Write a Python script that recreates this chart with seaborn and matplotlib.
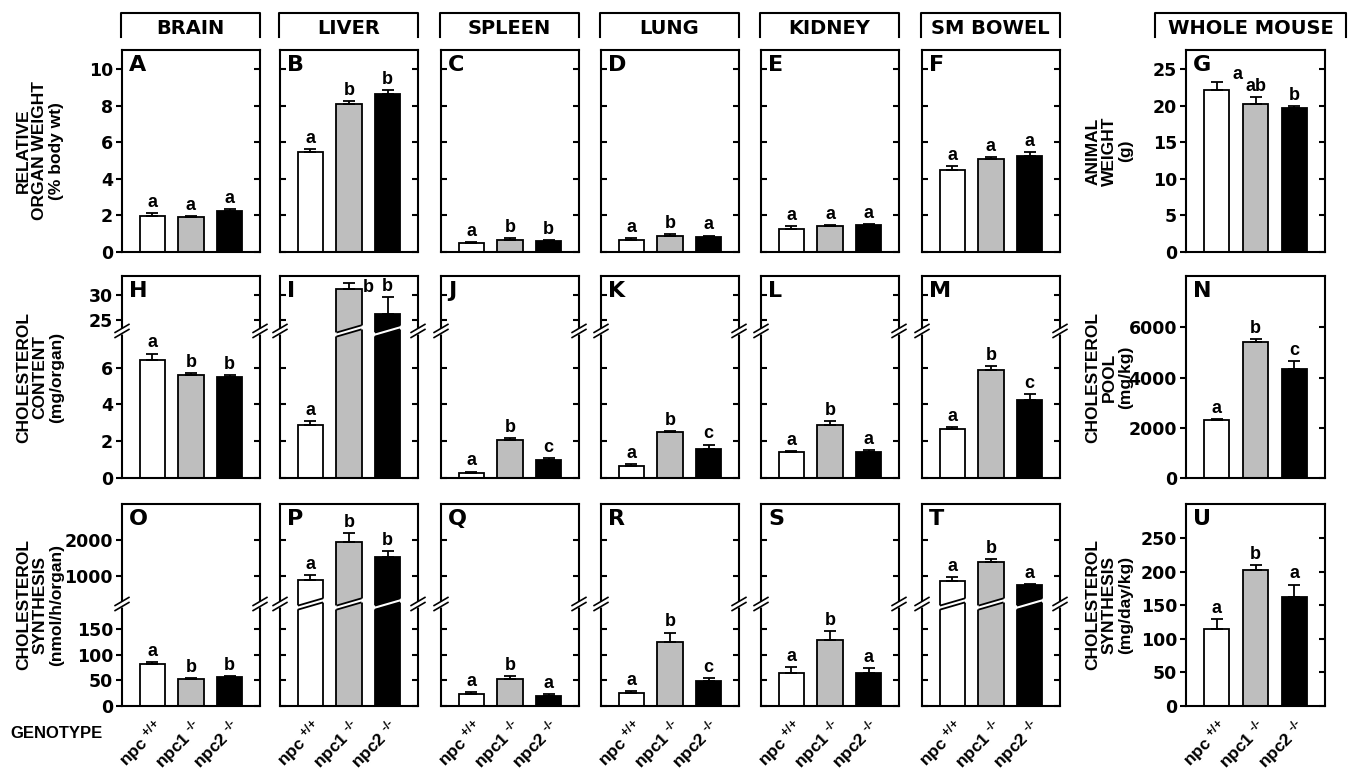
import numpy as np
import matplotlib
matplotlib.use("Agg")
import matplotlib.pyplot as plt
import matplotlib.lines as mlines
from matplotlib.patches import Polygon
from matplotlib.transforms import blended_transform_factory
import seaborn as sns

# ---- values ----
genotypes = ["npc +/+", "npc1 -/-", "npc2 -/-"]
genotype_ticks = [r"npc $^{\text{+/+}}$", r"npc1 $^{\text{-/-}}$", r"npc2 $^{\text{-/-}}$"]
organs = ["BRAIN", "LIVER", "SPLEEN", "LUNG", "KIDNEY", "SM BOWEL"]
bar_colors = ["#ffffff", "#bebebe", "#000000"]

# relative organ weight (% body wt), panels A-F
organ_weight = [[1.98, 1.91, 2.22], [5.44, 8.09, 8.63], [0.47, 0.68, 0.61],
                [0.68, 0.88, 0.83], [1.28, 1.42, 1.46], [4.50, 5.10, 5.25]]
organ_weight_sem = [[0.13, 0.07, 0.11], [0.20, 0.15, 0.20], [0.09, 0.10, 0.05],
                    [0.10, 0.10, 0.07], [0.12, 0.07, 0.07], [0.20, 0.10, 0.20]]
organ_weight_sig = [["a", "a", "a"], ["a", "b", "b"], ["a", "b", "b"],
                    ["a", "b", "a"], ["a", "a", "a"], ["a", "a", "a"]]

# cholesterol content (mg/organ), panels H-M
chol_content = [[6.44, 5.61, 5.48], [2.90, 31.1, 26.1], [0.29, 2.08, 0.98],
                [0.66, 2.50, 1.60], [1.40, 2.90, 1.40], [2.68, 5.88, 4.26]]
chol_content_sem = [[0.33, 0.11, 0.14], [0.18, 1.20, 3.50], [0.06, 0.07, 0.09],
                    [0.11, 0.07, 0.22], [0.08, 0.20, 0.11], [0.09, 0.20, 0.31]]
chol_content_sig = [["a", "b", "b"], ["a", "b", "b"], ["a", "b", "c"],
                    ["a", "b", "c"], ["a", "b", "a"], ["a", "b", "c"]]

# cholesterol synthesis (nmol/h/organ), panels O-T
chol_synth = [[83, 53, 56], [890, 1953, 1519], [23.7, 52.8, 20.4],
              [25, 126, 49.4], [64.6, 130, 64.6], [870, 1397, 750]]
chol_synth_sem = [[2.5, 2.5, 2.5], [138, 250, 175], [4.5, 6, 2.5],
                  [4, 18, 5], [12, 17, 10.5], [94, 75, 28]]
chol_synth_sig = [["a", "b", "b"], ["a", "b", "b"], ["a", "b", "a"],
                  ["a", "b", "c"], ["a", "b", "a"], ["a", "b", "a"]]

# whole mouse, panels G, N, U
animal_weight = [22.2, 20.2, 19.7]
animal_weight_sem = [1.03, 0.95, 0.26]
animal_weight_sig = ["a", "ab", "b"]
chol_pool = [2290, 5400, 4330]
chol_pool_sem = [55, 135, 330]
chol_pool_sig = ["a", "b", "c"]
mouse_synth = [114, 203, 163]
mouse_synth_sem = [15, 7, 18]
mouse_synth_sig = ["a", "b", "a"]

# ---- styling ----
plt.rcParams["font.family"] = ["Liberation Sans", "DejaVu Sans"]
plt.rcParams["font.weight"] = "bold"
plt.rcParams["mathtext.fontset"] = "custom"
plt.rcParams["mathtext.rm"] = "Liberation Sans:bold"
plt.rcParams["mathtext.bf"] = "Liberation Sans:bold"
plt.rcParams["mathtext.it"] = "Liberation Sans:bold"
plt.rcParams["axes.linewidth"] = 1.5

W, H = 1348, 778
fig = plt.figure(figsize=(W / 100, H / 100), dpi=100)

col_left = [122, 280, 441, 601, 761, 922]
mouse_left = 1186
row_top = [50, 276, 504]
PW, PH = 138, 202


def px_axes(left, top, width=PW):
    return fig.add_axes([left / W, 1 - (top + PH) / H, width / W, PH / H])


def broken_scale(lo_top, hi_bot, hi_top, frac):
    def fwd(y):
        y = np.asarray(y, dtype=float)
        return np.where(y <= lo_top, y / lo_top * frac,
                        frac + np.clip(y - hi_bot, 0, None) / (hi_top - hi_bot) * (1 - frac))

    def inv(v):
        v = np.asarray(v, dtype=float)
        return np.where(v <= frac, v / frac * lo_top,
                        hi_bot + (v - frac) / (1 - frac) * (hi_top - hi_bot))
    return fwd, inv


# (lower top, upper bottom, upper top, break position as axes fraction)
row_breaks = [None, (8, 22.8, 33.8, 0.728), (200, 220, 3000, 0.505)]
row_ylims = [(0, 11.04), (0, 33.8), (0, 3000)]
row_yticks = [[0, 2, 4, 6, 8, 10], [0, 2, 4, 6, 25, 30], [0, 50, 100, 150, 1000, 2000]]
mouse_ylims = [(0, 27.6), (0, 8040), (0, 301)]
mouse_yticks = [[0, 5, 10, 15, 20, 25], [0, 2000, 4000, 6000], [0, 50, 100, 150, 200, 250]]


def draw_panel(ax, means, sems, sig, letter, ylim, yticks, labeled, bottom,
               brk=None, sig_offsets=None):
    sns.barplot(x=genotypes, y=means, hue=genotypes, order=genotypes, hue_order=genotypes,
                palette=bar_colors, saturation=1, width=0.65, edgecolor="black",
                linewidth=1.3, legend=False, errorbar=None, ax=ax)
    ax.errorbar(np.arange(3), means, yerr=[np.zeros(3), sems], fmt="none",
                ecolor="black", elinewidth=1.3, capsize=4.5, capthick=1.3, zorder=3)
    if brk is not None:
        ax.set_yscale("function", functions=broken_scale(*brk))
    ax.set_ylim(*ylim)
    ax.set_xlim(-0.79, 2.79)
    ax.set_yticks(yticks)
    ax.set_xlabel("")
    ax.set_ylabel("")

    for sp in ax.spines.values():
        sp.set_linewidth(1.5)
        sp.set_visible(True)

    ax.tick_params(axis="x", length=0, labelbottom=bottom)
    if bottom:
        ax.set_xticks(range(3), genotype_ticks, rotation=45, ha="right",
                      rotation_mode="anchor", fontsize=12.5, fontweight="bold")
        ax.tick_params(axis="x", pad=7)
    ax.tick_params(axis="y", direction="in", left=True, right=True, length=4.5,
                   width=1.5, labelleft=labeled, labelsize=12.5, pad=2)
    if labeled:
        ax.tick_params(axis="y", direction="out")
        for t in ax.yaxis.get_major_ticks():
            t.tick2line.set_marker(mlines.TICKLEFT)
            t.label1.set_fontfamily("DejaVu Sans")
            t.label1.set_fontweight("heavy")

    offsets = sig_offsets or {}
    for i, (m, s, t) in enumerate(zip(means, sems, sig)):
        dx, dy = offsets.get(i, (0, 1.5))
        ax.annotate(t, (i, m + s), xytext=(dx, dy), textcoords="offset points",
                    ha="center", va="bottom", fontsize=13, fontweight="bold", zorder=6)

    ax.text(0.05, 0.975, letter, transform=ax.transAxes, ha="left", va="top",
            fontsize=16, fontweight="bold", family="DejaVu Sans")

    if brk is not None:
        lo_top, frac = brk[0], brk[3]
        trans = blended_transform_factory(ax.transData, ax.transAxes)
        dy, th, e = 0.018, 0.010, 0.04
        for bar, m in zip(ax.patches, means):
            if m <= lo_top:
                continue
            x0 = bar.get_x()
            x1 = x0 + bar.get_width()
            ax.add_patch(Polygon([(x0 - e, frac - dy - th), (x1 + e, frac + dy - th),
                                  (x1 + e, frac + dy + th), (x0 - e, frac - dy + th)],
                                 closed=True, facecolor="white", edgecolor="none",
                                 transform=trans, zorder=4))
            for off in (-th, th):
                ax.plot([x0, x1], [frac - dy + off, frac + dy + off], color="black",
                        lw=1.3, transform=trans, zorder=5, solid_capstyle="butt")
        # break marks on both side spines
        for xs in (0, 1):
            ax.plot([xs, xs], [frac - 0.013, frac + 0.013], color="white", lw=3.5,
                    transform=ax.transAxes, clip_on=False, zorder=6,
                    solid_capstyle="butt")
            for off in (-0.0125, 0.0125):
                ax.plot([xs - 0.05, xs + 0.05], [frac + off - 0.02, frac + off + 0.02],
                        color="black", lw=1.2, transform=ax.transAxes, clip_on=False,
                        zorder=7)


rows = [
    (organ_weight, organ_weight_sem, organ_weight_sig, "ABCDEF"),
    (chol_content, chol_content_sem, chol_content_sig, "HIJKLM"),
    (chol_synth, chol_synth_sem, chol_synth_sig, "OPQRST"),
]
special_offsets = {("I", 1): (14, -9), ("G", 0): (15, -1)}

for r, (means, sems, sigs, letters) in enumerate(rows):
    for c in range(6):
        ax = px_axes(col_left[c], row_top[r])
        offs = {k[1]: v for k, v in special_offsets.items() if k[0] == letters[c]}
        draw_panel(ax, means[c], sems[c], sigs[c], letters[c], row_ylims[r],
                   row_yticks[r], labeled=(c == 0), bottom=(r == 2),
                   brk=row_breaks[r], sig_offsets=offs)

mouse_rows = [
    (animal_weight, animal_weight_sem, animal_weight_sig, "G"),
    (chol_pool, chol_pool_sem, chol_pool_sig, "N"),
    (mouse_synth, mouse_synth_sem, mouse_synth_sig, "U"),
]
for r, (means, sems, sig, letter) in enumerate(mouse_rows):
    ax = px_axes(mouse_left, row_top[r], width=139)
    offs = {k[1]: v for k, v in special_offsets.items() if k[0] == letter}
    draw_panel(ax, means, sems, sig, letter, mouse_ylims[r], mouse_yticks[r],
               labeled=True, bottom=(r == 2), sig_offsets=offs)

# column headers with brackets
def bracket(x0, x1, label):
    xs = np.array([x0, x0, x1, x1]) / W
    ys = 1 - np.array([37, 13, 13, 37]) / H
    fig.add_artist(mlines.Line2D(xs, ys, color="black", lw=1.5))
    fig.text((x0 + x1) / 2 / W, 1 - 28 / H, label, ha="center", va="center",
             fontsize=14, fontweight="bold", family="DejaVu Sans")


for c, organ in enumerate(organs):
    bracket(col_left[c] - 1, col_left[c] + PW, organ)
bracket(1155, 1346, "WHOLE MOUSE")

# row labels
row_labels = ["RELATIVE\nORGAN WEIGHT\n(% body wt)",
              "CHOLESTEROL\nCONTENT\n(mg/organ)",
              "CHOLESTEROL\nSYNTHESIS\n(nmol/h/organ)"]
mouse_labels = ["ANIMAL\nWEIGHT\n(g)",
                "CHOLESTEROL\nPOOL\n(mg/kg)",
                "CHOLESTEROL\nSYNTHESIS\n(mg/day/kg)"]
for r in range(3):
    yc = 1 - (row_top[r] + PH / 2) / H
    fig.text(40 / W, yc, row_labels[r], rotation=90, ha="center", va="center",
             fontsize=12.5, fontweight="bold", linespacing=1.1, multialignment="center")
    fig.text(1109 / W, yc, mouse_labels[r], rotation=90, ha="center", va="center",
             fontsize=12.5, fontweight="bold", linespacing=1.1, multialignment="center")

fig.text(10 / W, 1 - 733 / H, "GENOTYPE", ha="left", va="center",
         fontsize=12, fontweight="bold")

fig.savefig("out.png", dpi=100)
